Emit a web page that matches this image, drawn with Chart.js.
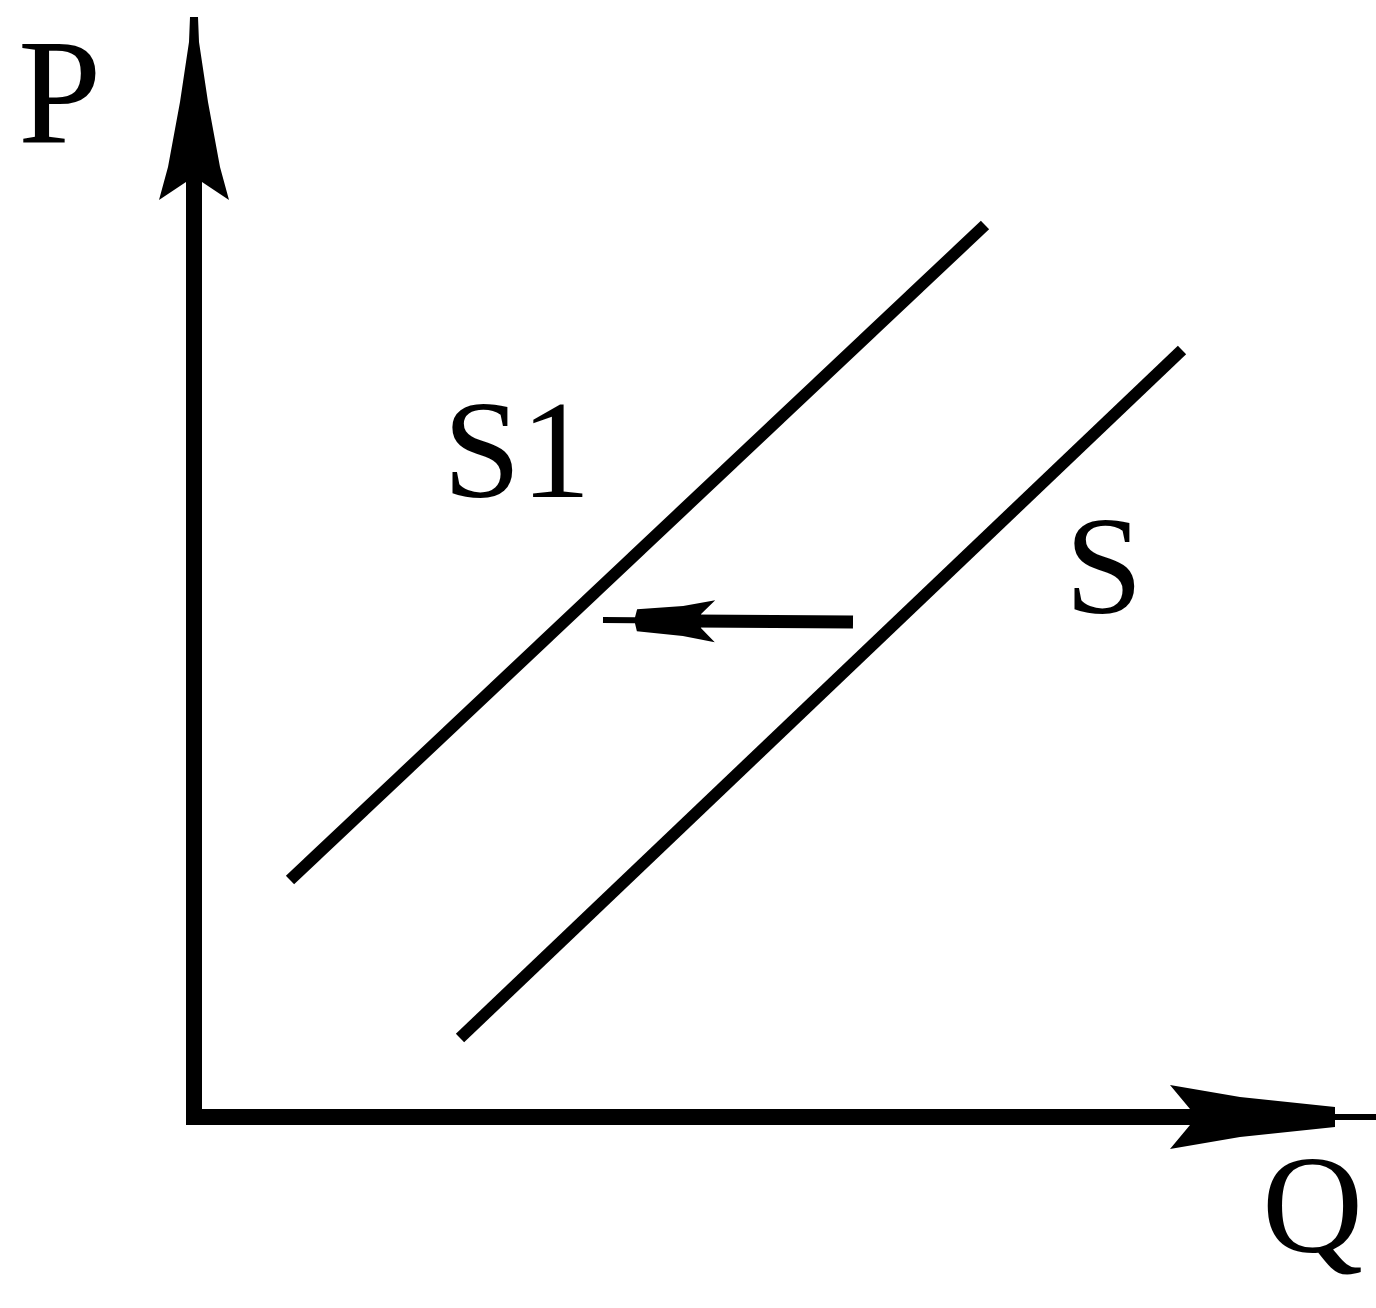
<!DOCTYPE html>
<html>
<head>
<meta charset="utf-8">
<script src="https://cdn.jsdelivr.net/npm/chart.js@4.4.1/dist/chart.umd.min.js"></script>
<style>
  html, body { margin: 0; padding: 0; background: #fff; }
  #wrap { width: 1376px; height: 1308px; }
</style>
</head>
<body>
<div id="wrap"><canvas id="supplyShift"></canvas></div>
<script>
// curves (Q, P)
const s1Curve = [{x: 0.96, y: 2.37}, {x: 7.91, y: 8.92}];
const sCurve = [{x: 2.66, y: 0.79}, {x: 9.88, y: 7.67}];
const shiftArrow = [{x: 6.59, y: 4.95}, {x: 5.0, y: 4.96}, {x: 4.09, y: 4.97}];
const pAxis = [{x: 0, y: -0.08}, {x: 0, y: 9.5}, {x: 0, y: 11.0}];
const qAxis = [{x: 0, y: 0}, {x: 11.41, y: 0}, {x: 11.82, y: 0}];

const labelTexts = ['P', 'S1', 'S', 'Q'];
const labelQ = [-1.76, 2.49, 8.71, 10.68];
const labelP = [9.74, 6.2, 5.04, -1.35];

const xRange = [-1.94, 11.82];
const yRange = [-1.91, 11.17];

// arrow heads, drawn at point `arrowAt` of a dataset, pointing along the segment before it.
// profile = [distance back from tip, half width] pairs, mirrored on both sides
const arrowHeads = {
  id: 'arrowHeads',
  afterDatasetsDraw(chart) {
    const ctx = chart.ctx;
    chart.data.datasets.forEach((ds, i) => {
      if (ds.arrowAt === undefined) return;
      const meta = chart.getDatasetMeta(i);
      const tip = meta.data[ds.arrowAt];
      const prev = meta.data[ds.arrowAt - 1];
      let ux = tip.x - prev.x, uy = tip.y - prev.y;
      const len = Math.hypot(ux, uy);
      ux /= len; uy /= len;
      const px = -uy, py = ux;
      const side = ds.profile;
      const pts = side.concat(side.slice().reverse().map(([b, s]) => [b, -s]));
      ctx.save();
      ctx.fillStyle = '#000';
      ctx.beginPath();
      pts.forEach(([b, s], k) => {
        const x = tip.x - b * ux + s * px;
        const y = tip.y - b * uy + s * py;
        if (k === 0) ctx.moveTo(x, y); else ctx.lineTo(x, y);
      });
      ctx.closePath();
      ctx.fill();
      ctx.restore();
    });
  }
};

const textLabels = {
  id: 'textLabels',
  afterDraw(chart) {
    const ctx = chart.ctx;
    const xs = chart.scales.x, ys = chart.scales.y;
    ctx.save();
    ctx.fillStyle = '#000';
    ctx.textAlign = 'left';
    ctx.textBaseline = 'alphabetic';
    labelTexts.forEach((t, i) => {
      ctx.font = (t === 'P' ? 150 : 140) + 'px "Liberation Serif", "DejaVu Serif", serif';
      ctx.fillText(t, xs.getPixelForValue(labelQ[i]), ys.getPixelForValue(labelP[i]));
    });
    ctx.restore();
  }
};

function lineSet(label, data, width, extra) {
  return Object.assign({
    label: label,
    data: data,
    showLine: true,
    borderColor: '#000',
    borderWidth: width,
    borderCapStyle: 'butt',
    pointRadius: 0,
    fill: false
  }, extra || {});
}

new Chart(document.getElementById('supplyShift'), {
  type: 'scatter',
  data: {
    datasets: [
      lineSet('S1', s1Curve, 12),
      lineSet('S', sCurve, 12),
      lineSet('shift', shiftArrow, 13, {
        segment: { borderWidth: c => c.p1DataIndex === 2 ? 4 : 13 },
        arrowAt: 2,
        profile: [[0, 3], [32, 3], [34, 11], [80, 15], [112, 21], [98, 7]]
      }),
      lineSet('P axis', pAxis, 16, {
        segment: { borderWidth: c => c.p1DataIndex === 2 ? 4 : 16 },
        arrowAt: 2,
        profile: [[0, 4], [25, 5], [85, 14], [150, 26], [183, 35], [165, 8]]
      }),
      lineSet('Q axis', qAxis, 16, {
        segment: { borderWidth: c => c.p1DataIndex === 2 ? 6 : 16 },
        arrowAt: 1,
        profile: [[0, 10], [95, 20], [165, 32], [145, 8]]
      })
    ]
  },
  options: {
    responsive: true,
    maintainAspectRatio: false,
    animation: false,
    layout: { padding: 0 },
    plugins: {
      legend: { display: false },
      tooltip: { enabled: false }
    },
    scales: {
      x: { type: 'linear', min: xRange[0], max: xRange[1], display: false },
      y: { type: 'linear', min: yRange[0], max: yRange[1], display: false }
    }
  },
  plugins: [arrowHeads, textLabels]
});
</script>
</body>
</html>
